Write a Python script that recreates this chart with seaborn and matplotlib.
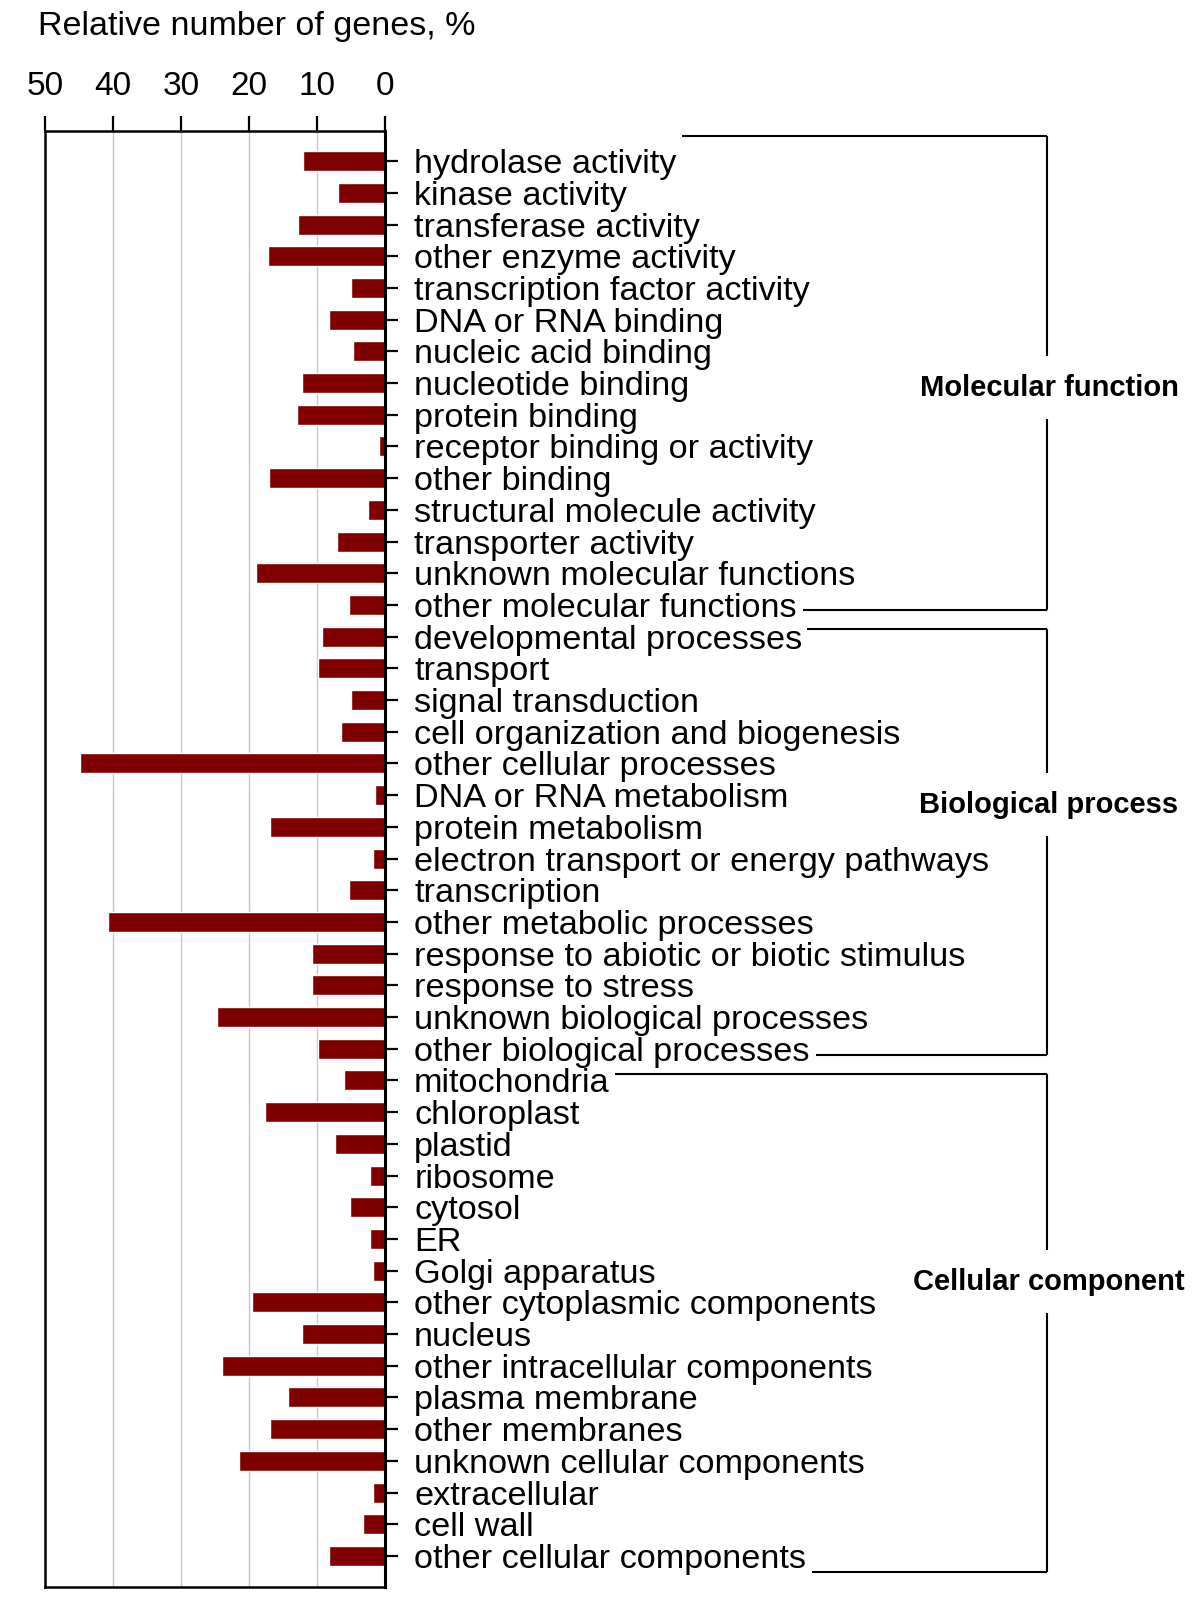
import matplotlib
matplotlib.use('Agg')
import matplotlib.pyplot as plt
import matplotlib.transforms as mtransforms
import seaborn as sns

# GO categories, top to bottom
categories = [
    'hydrolase activity', 'kinase activity', 'transferase activity',
    'other enzyme activity', 'transcription factor activity',
    'DNA or RNA binding', 'nucleic acid binding', 'nucleotide binding',
    'protein binding', 'receptor binding or activity', 'other binding',
    'structural molecule activity', 'transporter activity',
    'unknown molecular functions', 'other molecular functions',
    'developmental processes', 'transport', 'signal transduction',
    'cell organization and biogenesis', 'other cellular processes',
    'DNA or RNA metabolism', 'protein metabolism',
    'electron transport or energy pathways', 'transcription',
    'other metabolic processes', 'response to abiotic or biotic stimulus',
    'response to stress', 'unknown biological processes',
    'other biological processes',
    'mitochondria', 'chloroplast', 'plastid', 'ribosome', 'cytosol', 'ER',
    'Golgi apparatus', 'other cytoplasmic components', 'nucleus',
    'other intracellular components', 'plasma membrane', 'other membranes',
    'unknown cellular components', 'extracellular', 'cell wall',
    'other cellular components',
]

# relative number of genes, %
percent = [
    12.0, 6.9, 12.8, 17.2, 5.0, 8.2, 4.75, 12.2, 13.0, 0.9, 17.0, 2.45, 7.1, 18.9, 5.3,
    9.3, 9.8, 5.0, 6.5, 44.9, 1.5, 16.9, 1.7, 5.3, 40.7, 10.7, 10.7, 24.7, 9.8,
    6.0, 17.7, 7.3, 2.25, 5.1, 2.25, 1.75, 19.5, 12.2, 24.0, 14.3, 16.9, 21.4, 1.75, 3.2, 8.2,
]

groups = ['Molecular function', 'Biological process', 'Cellular component']
group_sizes = [15, 14, 16]

sns.set_style('white')
plt.rcParams['font.family'] = ['Liberation Sans', 'DejaVu Sans']
plt.rcParams['text.color'] = 'black'

W, H = 1200, 1605
fig = plt.figure(figsize=(W / 100, H / 100), dpi=100)
ax = fig.add_axes([45 / W, 1 - 1587 / H, 340 / W, 1456 / H])

sns.barplot(x=percent, y=categories, orient='y', color='#800000',
            saturation=1, width=0.63, errorbar=None, ax=ax)

ax.set_xlim(50, 0)
ax.set_ylim(len(categories) - 0.02, -0.95)
ax.set_xticks([50, 40, 30, 20, 10, 0])
ax.xaxis.tick_top()
ax.yaxis.tick_right()
ax.tick_params(axis='x', direction='out', length=11, width=1.6, pad=10,
               labelsize=24, top=True, bottom=False, colors='black')
ax.tick_params(axis='y', direction='out', length=9, width=1.6, pad=12,
               labelsize=24.7, right=True, left=False, colors='black')
ax.set_xlabel('')
ax.set_ylabel('')
ax.grid(axis='x', color='#c8c8c8', linewidth=1)
ax.set_axisbelow(True)
for s in ax.spines.values():
    s.set_visible(True)
    s.set_color('black')
    s.set_linewidth(1.8)
ax.spines['right'].set_linewidth(2.2)

fig.text(38 / W, 1 - 26 / H, 'Relative number of genes, %', fontsize=24.5,
         ha='left', va='center', color='black')

# group brackets on the right
fig.canvas.draw()
renderer = fig.canvas.get_renderer()
labels = ax.get_yticklabels()
blend = mtransforms.blended_transform_factory(fig.transFigure, ax.transData)

x_br = 1047 / W
top_off = [-0.8, -0.25, -0.2]
bot_off = [0.15, 0.2, 0.5]
label_rows = [7.15, 20.3, 35.35]
gap = 1.0
kw = dict(transform=blend, clip_on=False, color='black', lw=1.5,
          scalex=False, scaley=False, solid_capstyle='butt')

start = 0
for name, n, t, b, ly in zip(groups, group_sizes, top_off, bot_off, label_rows):
    first, last = start, start + n - 1
    x0 = labels[first].get_window_extent(renderer).x1 / fig.bbox.width + 5 / W
    x1 = labels[last].get_window_extent(renderer).x1 / fig.bbox.width + 6 / W
    y_top, y_bot = first + t, last + b
    ax.plot([x0, x_br], [y_top, y_top], **kw)
    ax.plot([x_br, x_br], [y_top, ly - gap], **kw)
    ax.plot([x_br, x_br], [ly + gap, y_bot], **kw)
    ax.plot([x1, x_br], [y_bot, y_bot], **kw)
    ax.text(x_br + 2 / W, ly, name, transform=blend, ha='center', va='center',
            fontsize=21, fontweight='bold', color='black')
    start += n

fig.savefig('out.png', dpi=100)
